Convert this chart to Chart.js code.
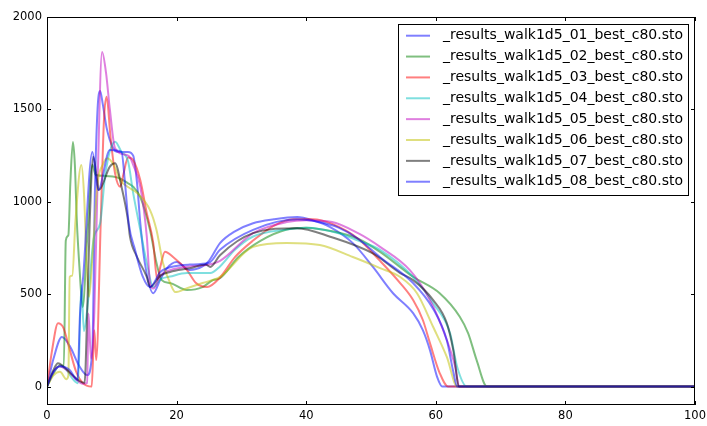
<!DOCTYPE html>
<html>
<head>
<meta charset="utf-8">
<script src="https://cdn.jsdelivr.net/npm/chart.js@4.4.1/dist/chart.umd.min.js"></script>
<style>
  body { margin: 0; background: #fff; }
  #wrap { width: 707px; height: 426px; position: relative; }
</style>
</head>
<body>
<div id="wrap"><canvas id="walk"></canvas></div>
<script>
const labels = [
  '_results_walk1d5_01_best_c80.sto',
  '_results_walk1d5_02_best_c80.sto',
  '_results_walk1d5_03_best_c80.sto',
  '_results_walk1d5_04_best_c80.sto',
  '_results_walk1d5_05_best_c80.sto',
  '_results_walk1d5_06_best_c80.sto',
  '_results_walk1d5_07_best_c80.sto',
  '_results_walk1d5_08_best_c80.sto'
];
const colors = [
  'rgba(0,0,255,0.5)', 'rgba(0,128,0,0.5)', 'rgba(255,0,0,0.5)', 'rgba(0,191,191,0.5)',
  'rgba(191,0,191,0.5)', 'rgba(191,191,0,0.5)', 'rgba(0,0,0,0.5)', 'rgba(0,0,255,0.5)'
];
const xTicks = [0, 20, 40, 60, 80, 100];
const yTicks = [0, 500, 1000, 1500, 2000];

// series (x = % of cycle, y = force)
const x01 = [0, 1, 2.3, 3.5, 5, 6.2, 7, 7.4, 7.8, 8.2, 8.6, 9.2, 10.2, 11, 12.5, 13.3, 13.9, 14.4, 15.1, 16.4, 17.5, 18.5, 20, 22, 24, 25, 26.7, 29, 31.8, 35, 38.6, 41, 43.7, 47.2, 50.3, 53.4, 56.5, 58, 59.1, 60.2, 61, 100];
const y01 = [0, 150, 268, 220, 110, 62, 200, 1063, 1500, 1600, 1530, 1400, 1290, 1270, 1270, 1250, 1100, 884, 668, 505, 580, 640, 674, 630, 650, 680, 776, 840, 884, 905, 917, 900, 863, 776, 647, 505, 397, 305, 197, 52, 0, 0];

const x02 = [0, 1, 2, 2.6, 2.9, 3.3, 3.6, 4.0, 4.3, 4.6, 5.0, 5.5, 6.2, 7.0, 7.5, 9, 11, 12.5, 13.3, 14.4, 15.9, 16.9, 17.7, 19, 21.6, 24, 25.6, 26.7, 29.5, 33, 37, 40, 44, 48, 51.4, 56.5, 60.6, 63.7, 65, 66.3, 67.9, 100];
const y02 = [0, 70, 115, 110, 790, 820, 1100, 1323, 1200, 900, 650, 430, 800, 1200, 1145, 1140, 1130, 1100, 1081, 1025, 847, 668, 576, 560, 522, 538, 576, 586, 700, 790, 850, 860, 840, 800, 729, 594, 505, 378, 288, 143, 0, 0];

const x03 = [0, 0.8, 1.7, 2.5, 3.5, 4.5, 5.5, 6.9, 7.3, 7.6, 8.3, 8.8, 9.2, 9.8, 10.5, 11.3, 11.8, 12.5, 13.3, 14.4, 15.4, 16.4, 17.0, 17.5, 18.2, 19.5, 21.6, 23, 24.7, 26.7, 29, 31.8, 35, 38, 41, 44, 48, 51.4, 54.5, 56.5, 58, 59.1, 60.6, 61.9, 100];
const y03 = [0, 200, 343, 320, 200, 80, 20, 0, 305, 143, 900, 1450, 1568, 1350, 1154, 1081, 1150, 1240, 1225, 1117, 938, 776, 580, 650, 730, 700, 630, 560, 538, 590, 700, 790, 870, 905, 905, 880, 800, 680, 560, 468, 360, 235, 73, 0, 0];

const x04 = [0, 1, 2, 3, 4, 4.8, 5.3, 5.7, 6.3, 7.2, 8.2, 9, 10.5, 11.5, 12.5, 13.3, 14.4, 15.4, 16.4, 17.5, 19, 21.6, 25.2, 26.7, 29, 31.8, 37, 40, 45, 48, 51.4, 56.5, 59.6, 62.2, 63.3, 64.8, 100];
const y04 = [0, 80, 110, 90, 40, 18, 550, 300, 450, 800, 884, 1150, 1325, 1270, 1220, 1047, 847, 668, 538, 580, 595, 614, 614, 650, 740, 812, 850, 860, 830, 790, 740, 593, 450, 289, 106, 0, 0];

const x05 = [0, 1, 2, 3, 4.5, 5.5, 6.2, 6.4, 6.8, 7.3, 7.8, 8.5, 9.1, 9.7, 10.5, 12.3, 12.8, 13.3, 14.4, 15.4, 15.9, 16.4, 17.5, 19, 22, 25, 26.7, 31.8, 37, 40, 44, 48, 51.4, 56, 59.1, 61.7, 63, 63.6, 100];
const y05 = [0, 80, 110, 90, 40, 15, 20, 395, 150, 400, 1100, 1810, 1700, 1500, 1290, 1253, 1240, 1200, 1081, 811, 560, 530, 600, 630, 650, 660, 680, 830, 890, 900, 890, 830, 756, 630, 468, 252, 106, 0, 0];

const x06 = [0, 1, 2, 3, 3.3, 3.5, 3.9, 4.4, 5.3, 5.7, 6.2, 6.5, 7, 7.8, 8.6, 9.3, 10.3, 11.3, 12.5, 13.9, 15.9, 16.9, 17.9, 19, 19.8, 21.6, 24, 26.7, 31.8, 37, 42.1, 47.2, 51.4, 54.5, 57.1, 59.6, 61.7, 63.3, 100];
const y06 = [0, 60, 80, 40, 60, 593, 600, 900, 1199, 1050, 600, 486, 700, 1100, 1200, 1236, 1200, 1117, 1080, 1047, 955, 847, 668, 560, 511, 532, 560, 593, 756, 777, 766, 701, 641, 593, 505, 322, 160, 0, 0];

const x07 = [0, 1, 1.7, 2.5, 4, 5, 5.8, 6.2, 6.6, 7.15, 7.6, 8.0, 9.7, 10.5, 11.5, 12.5, 12.8, 13.9, 15.4, 15.9, 17.5, 19, 22, 24.5, 25.2, 26.7, 31.8, 38.6, 43.7, 50.3, 54.5, 56.5, 59.6, 61.7, 62.7, 63.6, 100];
const y07 = [0, 90, 126, 110, 60, 30, 20, 400, 900, 1243, 1150, 1063, 1190, 1208, 1081, 900, 811, 701, 593, 538, 600, 620, 640, 660, 647, 711, 830, 857, 811, 720, 614, 576, 468, 343, 197, 0, 0];

const x08 = [0, 1, 2, 3.5, 4.7, 5.1, 5.6, 7.0, 7.9, 9.7, 11.5, 12, 12.6, 13.6, 14.8, 15.9, 17.5, 19.5, 22, 25, 26.7, 31.8, 38.6, 42, 45, 48, 51.4, 56.5, 59.6, 61.7, 62.7, 63.3, 100];
const y08 = [0, 80, 110, 90, 35, 395, 600, 1270, 1063, 1280, 1270, 1117, 884, 738, 593, 538, 620, 650, 660, 670, 740, 848, 905, 890, 860, 800, 700, 560, 420, 250, 80, 0, 0];

const xs = [x01, x02, x03, x04, x05, x06, x07, x08];
const ys = [y01, y02, y03, y04, y05, y06, y07, y08];

const FONT = "'DejaVu Sans', sans-serif";

// frame, inward ticks and boxed legend like matplotlib
const mplDecor = {
  id: 'mplDecor',
  afterDatasetsDraw(chart) {
    const ctx = chart.ctx;
    const a = chart.chartArea;
    const sx = chart.scales.x, sy = chart.scales.y;
    ctx.save();
    ctx.strokeStyle = '#000';
    ctx.lineWidth = 1;
    ctx.beginPath();
    xTicks.forEach(v => {
      const px = Math.round(sx.getPixelForValue(v)) + 0.5;
      ctx.moveTo(px, a.bottom); ctx.lineTo(px, a.bottom - 4);
      ctx.moveTo(px, a.top); ctx.lineTo(px, a.top + 4);
    });
    yTicks.forEach(v => {
      const py = Math.round(sy.getPixelForValue(v)) + 0.5;
      ctx.moveTo(a.left, py); ctx.lineTo(a.left + 4, py);
      ctx.moveTo(a.right, py); ctx.lineTo(a.right - 4, py);
    });
    ctx.stroke();
    ctx.strokeRect(Math.round(a.left) + 0.5, Math.round(a.top) + 0.5,
                   Math.round(a.right - a.left) - 1, Math.round(a.bottom - a.top) - 1);

    // legend
    const bx = 398.5, by = 24.5, bw = 290, bh = 171;
    ctx.fillStyle = '#fff';
    ctx.fillRect(bx, by, bw, bh);
    ctx.strokeRect(bx, by, bw, bh);
    ctx.font = '14px ' + FONT;
    ctx.textBaseline = 'middle';
    chart.data.datasets.forEach((ds, i) => {
      const cy = 35.7 + i * 20.86;
      ctx.strokeStyle = ds.borderColor;
      ctx.lineWidth = 2;
      ctx.beginPath();
      ctx.moveTo(406, cy); ctx.lineTo(430, cy);
      ctx.stroke();
      ctx.fillStyle = '#000';
      ctx.fillText(ds.label, 443, cy);
    });
    ctx.restore();
  }
};

const config = {
  type: 'line',
  data: {
    datasets: labels.map((lab, i) => ({
      label: lab,
      data: xs[i].map((x, j) => ({x: x, y: ys[i][j]})),
      borderColor: colors[i],
      borderWidth: 2,
      pointRadius: 0,
      fill: false,
      cubicInterpolationMode: 'monotone',
      order: 8 - i
    }))
  },
  options: {
    responsive: true,
    maintainAspectRatio: false,
    animation: false,
    layout: { padding: { top: 17, right: 12, left: 0, bottom: 0 } },
    plugins: {
      legend: { display: false },
      tooltip: { enabled: false }
    },
    scales: {
      x: {
        type: 'linear',
        min: 0, max: 100,
        grid: { display: false, drawTicks: false },
        border: { display: false },
        ticks: { color: '#000', padding: 4, maxRotation: 0, font: { family: FONT, size: 11.5 },
                 callback: v => String(v) },
        afterBuildTicks: s => { s.ticks = xTicks.map(v => ({value: v})); },
        afterFit: s => { s.height = 21; s.paddingLeft = 0; s.paddingRight = 0; }
      },
      y: {
        type: 'linear',
        min: -100, max: 2000,
        grid: { display: false, drawTicks: false },
        border: { display: false },
        ticks: { color: '#000', padding: 5, font: { family: FONT, size: 11.5 },
                 callback: v => String(v) },
        afterBuildTicks: s => { s.ticks = yTicks.map(v => ({value: v})); },
        afterFit: s => { s.width = 47; s.paddingTop = 0; s.paddingBottom = 0; }
      }
    }
  },
  plugins: [mplDecor]
};

const walkChart = new Chart(document.getElementById('walk'), config);
</script>
</body>
</html>
